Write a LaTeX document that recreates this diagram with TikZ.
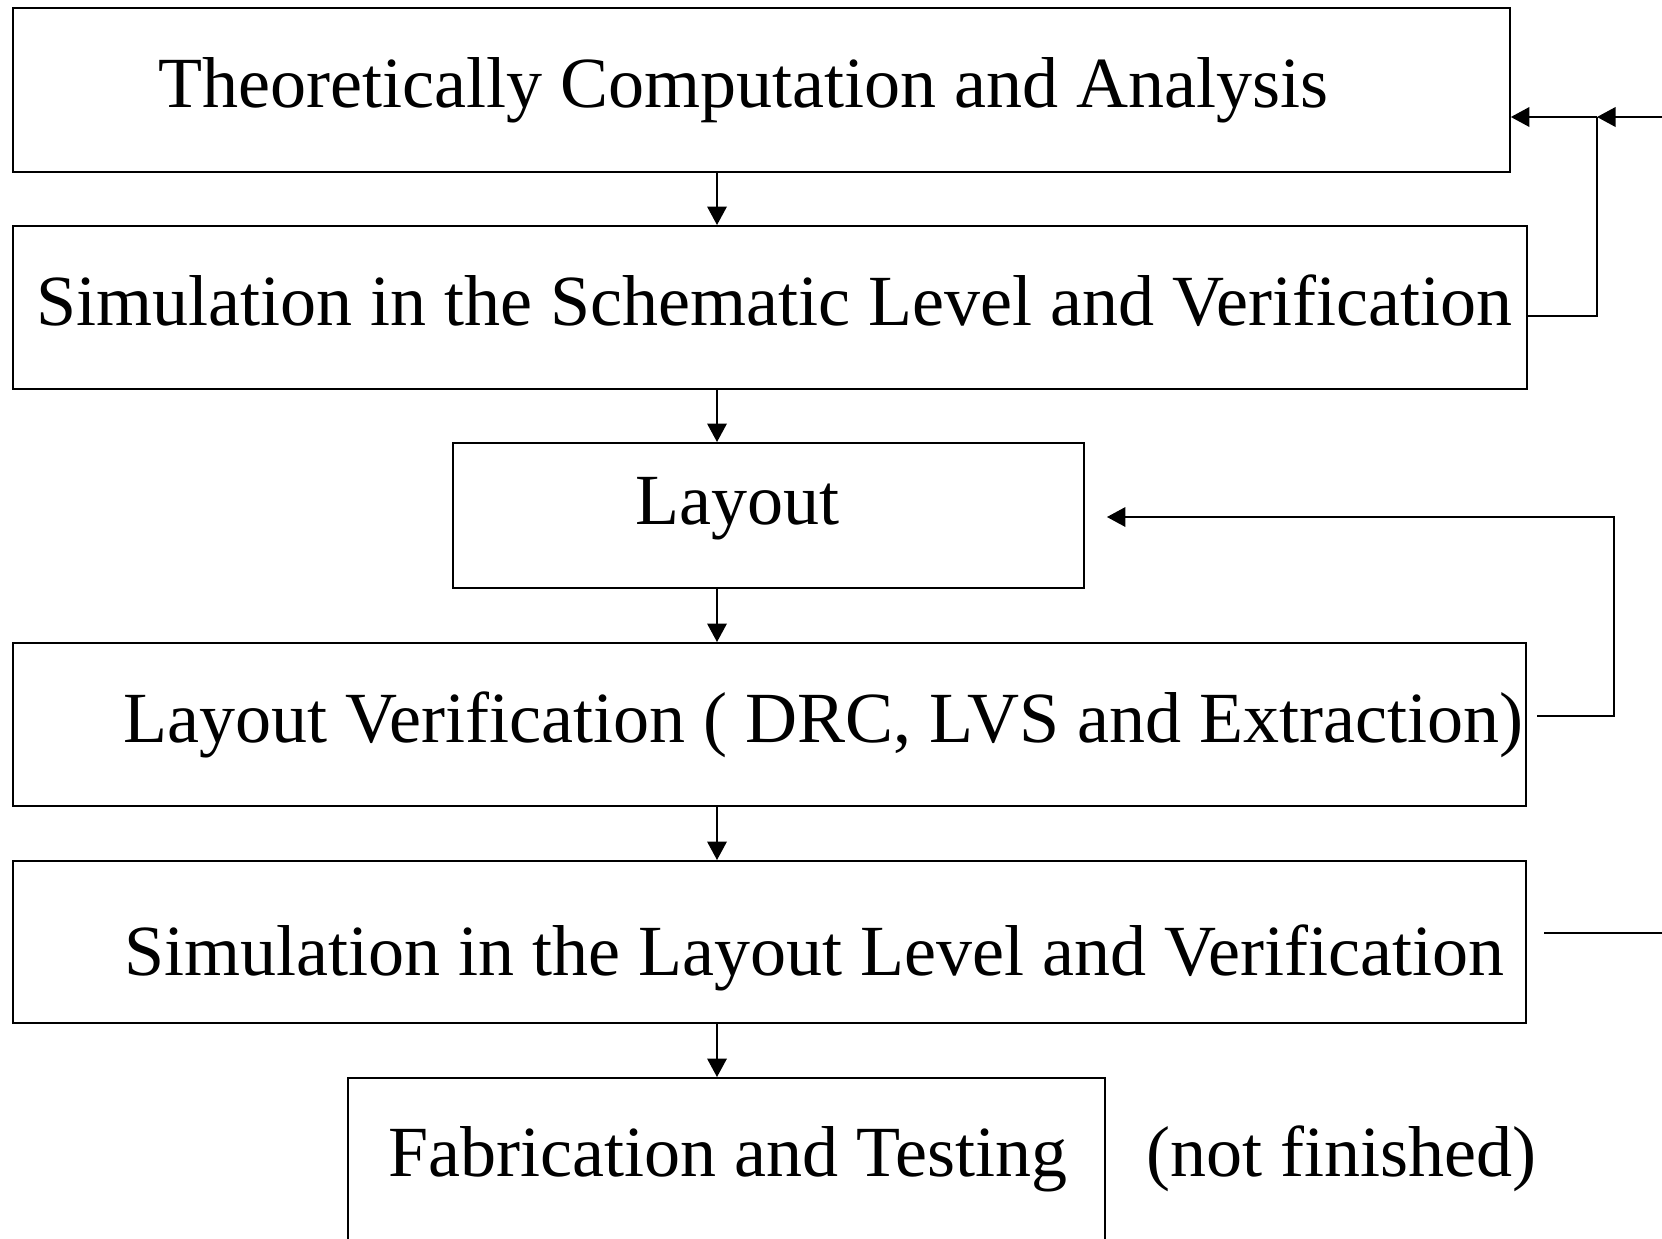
\documentclass[tikz,border=0pt]{standalone}
\usepackage{fontspec}
\setmainfont{Liberation Serif}
\usepackage{tikz}
\usetikzlibrary{positioning,arrows.meta}

\begin{document}
\begin{tikzpicture}[
  x=0.02cm, y=-0.02cm,
  every node/.style={font=\fontsize{41}{49}\selectfont},
  stagebox/.style={rectangle,draw,line width=0.04cm,inner sep=0pt},
  caption/.style={anchor=base west,inner sep=0pt},
  flow/.style={line width=0.04cm,-{Triangle[width=0.39cm,length=0.37cm]}},
]
\useasboundingbox (0,0) rectangle (1662,1238);

\node (theory) [stagebox,minimum width=29.94cm,minimum height=3.28cm] at (761.5,90) {};
\node (schem) [stagebox,minimum width=30.28cm,minimum height=3.26cm] at (770,307.5) {};
\node (layout) [stagebox,minimum width=12.62cm,minimum height=2.9cm] at (768.5,515.5) {};
\node (verif) [stagebox,minimum width=30.26cm,minimum height=3.26cm] at (769.5,724.5) {};
\node (postsim) [stagebox,minimum width=30.26cm,minimum height=3.24cm] at (769.5,942) {};
\node (fab) [stagebox,minimum width=15.14cm,minimum height=3.6cm] at (726.5,1168) {};

\node (theory text) [caption] at (158,107) {Theoretically Computation and Analysis};
\node (schem text) [caption] at (36,325) {Simulation in the Schematic Level and Verification};
\node (layout text) [caption] at (635,524) {Layout};
\node (verif text) [caption] at (123,742) {Layout Verification ( DRC, LVS and Extraction)};
\node (postsim text) [caption] at (124,975) {Simulation in the Layout Level and Verification};
\node (fab text) [caption] at (388,1176) {Fabrication and Testing};
\node (note) [caption] at (1146,1176) {(not finished)};

% main flow
\coordinate (spine) at (717,0);
\draw[flow] (theory.south -| spine) -- (schem.north -| spine);
\draw[flow] (schem.south -| spine) -- (layout.north -| spine);
\draw[flow] (layout.south -| spine) -- (verif.north -| spine);
\draw[flow] (verif.south -| spine) -- (postsim.north -| spine);
\draw[flow] (postsim.south -| spine) -- (fab.north -| spine);

% feedback loops
\coordinate (loop1) at (1597,117);
\coordinate (loop1 in) at (1662,117);
\coordinate (schem out) at (1527,316);
\coordinate (loop2) at (1614,517);
\coordinate (verif out) at (1537,716);
\coordinate (post out) at (1544,933);
\coordinate (post end) at (1662,933);

\draw[line width=0.04cm] (schem out) -| (loop1);
\draw[flow] (loop1) -- (loop1 -| theory.east);
\draw[flow] (loop1 in) -- (loop1);
\draw[flow,shorten >=0.44cm] (verif out) -| (loop2) -- (loop2 -| layout.east);
\draw[line width=0.04cm] (post out) -- (post end);
\end{tikzpicture}
\end{document}
